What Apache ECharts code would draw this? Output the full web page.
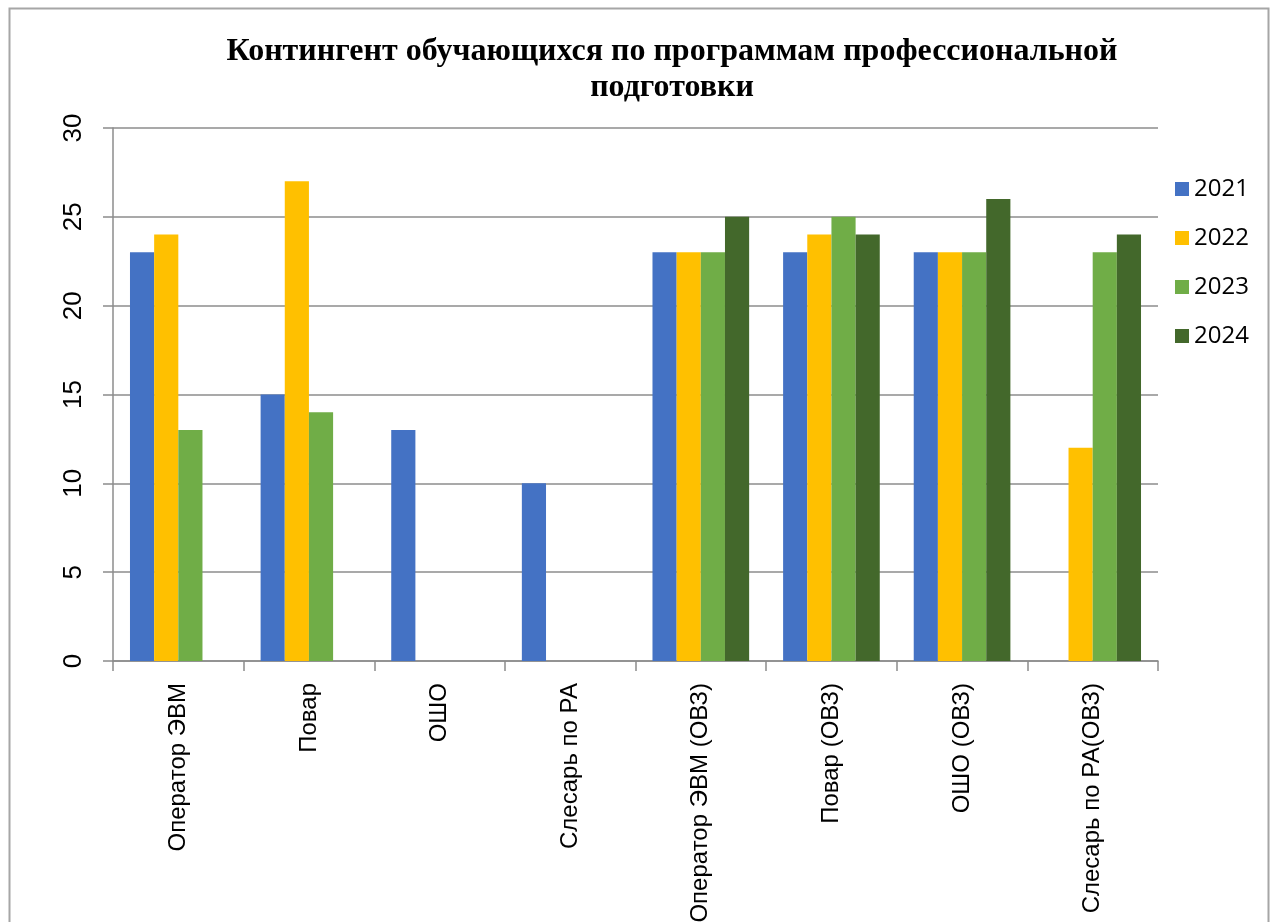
<!DOCTYPE html>
<html>
<head>
<meta charset="utf-8">
<script src="https://cdn.jsdelivr.net/npm/echarts@6/dist/echarts.min.js"></script>
<style>
html,body{margin:0;padding:0;background:#fff;}
#chart{width:1275px;height:922px;}
</style>
</head>
<body>
<div id="chart"></div>
<script>
const categories = ['Оператор ЭВМ','Повар','ОШО','Слесарь по РА','Оператор ЭВМ (ОВЗ)','Повар (ОВЗ)','ОШО (ОВЗ)','Слесарь по РА(ОВЗ)'];
const seriesNames = ['2021','2022','2023','2024'];
const values2021 = [23, 15, 13, 10, 23, 23, 23, null];
const values2022 = [24, 27, null, null, 23, 24, 23, 12];
const values2023 = [13, 14, null, null, 23, 25, 23, 23];
const values2024 = [null, null, null, null, 25, 24, 26, 24];
const yTicks = [0, 5, 10, 15, 20, 25, 30];
const colors = ['#4472C4','#FFC000','#70AD47','#43682B'];

const allValues = [values2021, values2022, values2023, values2024];
const chart = echarts.init(document.getElementById('chart'));
chart.setOption({
  animation: false,
  backgroundColor: '#fff',
  color: colors,
  graphic: [{
    type: 'rect', left: 7, top: 6, z: 100,
    shape: {width: 1259, height: 940},
    style: {fill: 'none', stroke: '#a6a6a6', lineWidth: 2}
  }],
  title: {
    text: 'Контингент обучающихся по программам профессиональной\nподготовки',
    left: 667, top: 29, textAlign: 'center',
    textStyle: {fontFamily: 'Liberation Serif', fontWeight: 'bold', fontSize: 32, lineHeight: 36, color: '#000'}
  },
  legend: {
    orient: 'vertical', left: 1170, top: 172,
    itemWidth: 14, itemHeight: 14, itemGap: 25,
    icon: 'rect',
    textStyle: {fontFamily: 'Open Sans', fontSize: 24, color: '#000', lineHeight: 24},
    data: seriesNames
  },
  grid: {left: 113, right: 117, top: 128, bottom: 261, containLabel: false, outerBoundsMode: 'none'},
  xAxis: {
    type: 'category', data: categories,
    axisLine: {lineStyle: {color: '#8c8c8c', width: 1.5}},
    axisTick: {show: true, length: 10, lineStyle: {color: '#8c8c8c', width: 1.5}},
    axisLabel: {rotate: 90, interval: 0, margin: 22, fontFamily: 'Liberation Sans', fontSize: 24, color: '#000'}
  },
  yAxis: {
    type: 'value', min: 0, max: 30, interval: 5,
    axisLine: {show: true, lineStyle: {color: '#8c8c8c', width: 1.5}},
    axisTick: {show: true, length: 10, lineStyle: {color: '#8c8c8c', width: 1.5}},
    splitLine: {lineStyle: {color: '#8c8c8c', width: 1.5}},
    axisLabel: {rotate: 90, margin: 26, fontFamily: 'Liberation Sans', fontSize: 26, color: '#000',
      formatter: v => yTicks.includes(v) ? String(v) : ''}
  },
  series: seriesNames.map((n, i) => ({
    name: n, type: 'bar', data: allValues[i],
    barGap: '0%', barCategoryGap: '26%',
    itemStyle: {color: colors[i]}
  }))
});
</script>
</body>
</html>
